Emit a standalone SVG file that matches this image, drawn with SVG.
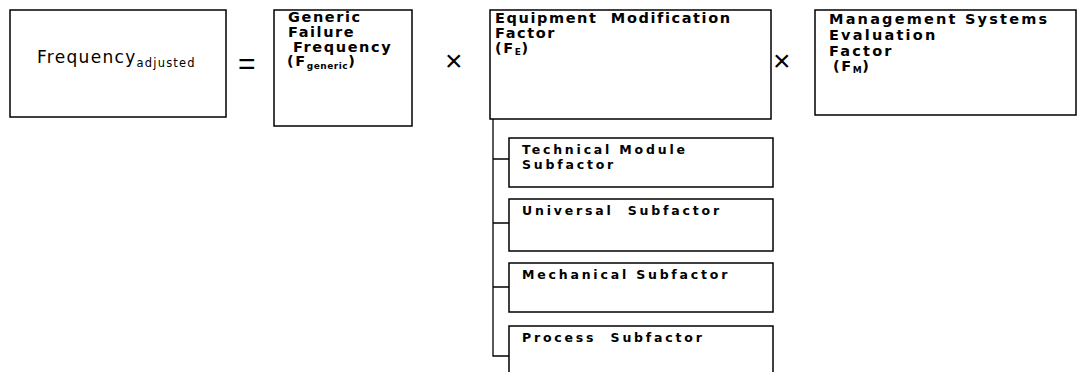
<svg xmlns="http://www.w3.org/2000/svg" width="1081" height="372" viewBox="0 0 1081 372">
<style>
.box{fill:#fff;stroke:#000;stroke-width:1.5}
.t{font-family:"DejaVu Sans",Verdana,sans-serif;font-weight:bold;font-size:14.5px;letter-spacing:1.6px;fill:#000;white-space:pre}
.w{letter-spacing:2.2px}
.s{font-family:"DejaVu Sans",Verdana,sans-serif;font-weight:bold;font-size:12.5px;letter-spacing:2.8px;fill:#000;white-space:pre}
.sub{font-size:9px;letter-spacing:0.5px}
.op{font-family:"Liberation Sans",Arial,sans-serif;font-size:30px;fill:#000}
.conn{fill:none;stroke:#000;stroke-width:1.3}
</style>
<rect width="1081" height="372" fill="#fff"/>
<g id="freq-adjusted">
<rect class="box" x="10" y="10" width="216" height="107"/>
<text x="37" y="63" style="font-family:'DejaVu Sans',Verdana,sans-serif;font-size:17px;letter-spacing:1.3px;fill:#000">Frequency<tspan dy="4" style="font-size:11.5px;letter-spacing:1.2px">adjusted</tspan></text>
</g>
<text class="op" x="238" y="74">=</text>
<g id="generic">
<rect class="box" x="274" y="10" width="138" height="116"/>
<text class="t" x="288" y="22">Generic</text>
<text class="t" x="288" y="37">Failure</text>
<text class="t" x="293" y="52">Frequency</text>
<text class="t" x="287" y="66">(F<tspan class="sub" dy="3">generic</tspan><tspan dy="-3">)</tspan></text>
</g>
<text class="op" x="445" y="71">×</text>
<g id="fe">
<rect class="box" x="490" y="10" width="281" height="109"/>
<text class="t" x="495" y="23">Equipment  Modification</text>
<text class="t" x="495" y="38">Factor</text>
<text class="t" x="495" y="53">(F<tspan class="sub" dy="2">E</tspan><tspan dy="-2">)</tspan></text>
</g>
<text class="op" x="773" y="71">×</text>
<g id="fm">
<rect class="box" x="815" y="10" width="261" height="105"/>
<text class="t w" x="829" y="24">Management Systems</text>
<text class="t w" x="829" y="40">Evaluation</text>
<text class="t w" x="829" y="56">Factor</text>
<text class="t" x="833" y="71">(F<tspan class="sub" dy="2">M</tspan><tspan dy="-2">)</tspan></text>
</g>
<g id="connectors">
<path class="conn" d="M493,119 V356 H509 M493,159 H509 M493,223 H509 M493,287 H509"/>
</g>
<g id="technical">
<rect class="box" x="509" y="138" width="264" height="49"/>
<text class="s" x="522" y="154">Technical Module</text>
<text class="s" x="522" y="169">Subfactor</text>
</g>
<g id="universal">
<rect class="box" x="509" y="199" width="264" height="52"/>
<text class="s" x="522" y="215">Universal  Subfactor</text>
</g>
<g id="mechanical">
<rect class="box" x="509" y="263" width="264" height="49"/>
<text class="s" x="522" y="279">Mechanical Subfactor</text>
</g>
<g id="process">
<rect class="box" x="509" y="326" width="264" height="60"/>
<text class="s" x="522" y="342">Process  Subfactor</text>
</g>
</svg>
